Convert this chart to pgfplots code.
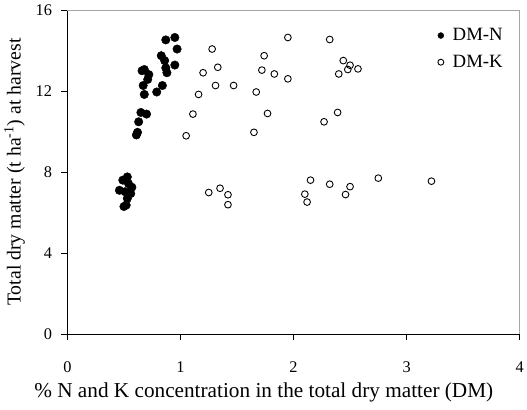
\documentclass[border=0pt]{standalone}
\usepackage{fontspec}
\setmainfont{Liberation Serif}
\usepackage{pgfplots}
\pgfplotsset{compat=1.18}

% DM-N: % N in dry matter vs total dry matter (t/ha)
\begin{document}
\begin{tikzpicture}[x=1bp,y=1bp]
\begin{axis}[
  scale only axis,
  width=456bp, height=327bp,
  xmin=0, xmax=4, ymin=0, ymax=16,
  xtick={0,1,2,3,4}, ytick={0,4,8,12,16},
  axis x line*=bottom, axis y line*=left,
  tick align=outside, tick style={black, thin},
  major tick length=6bp,
  axis line style={black, line width=0.8pt},
  ticklabel style={font=\fontsize{16.5}{19}\selectfont},
  xticklabel style={yshift=-18bp},
  yticklabel style={xshift=-6bp},
  /pgf/number format/assume math mode=true,
  xlabel={\% N and K concentration in the total dry matter (DM)},
  ylabel={Total dry matter (t ha\textsuperscript{-1}) at harvest},
  label style={font=\fontsize{20}{23}\selectfont},
  xlabel style={yshift=-4bp, xshift=-30bp, font=\fontsize{21.5}{24}\selectfont},
  ylabel style={yshift=4bp},
  legend style={draw=none, fill=none, at={(0.81,0.955)}, anchor=north west,
    font=\fontsize{19}{22}\selectfont, row sep=9bp,
    legend cell align=left},
  legend image code/.code={\path[draw=none, fill=none] (-4bp,0bp) -- (10bp,0bp);
    \draw[#1, mark size=3bp] plot coordinates {(0bp,0bp)};},
  clip=false,
]
\draw[gray!70, line width=0.8pt] (rel axis cs:0,1) -- (rel axis cs:1,1) -- (rel axis cs:1,0);

\addplot[only marks, mark=*, mark size=4.3bp, black] coordinates {
 (0.87,14.52) (0.95,14.64) (0.97,14.07) (0.83,13.74) (0.86,13.50)
 (0.95,13.28) (0.87,13.14) (0.88,12.90) (0.68,13.06) (0.66,13.00)
 (0.72,12.81) (0.71,12.57) (0.67,12.27) (0.84,12.27) (0.79,11.95)
 (0.68,11.83) (0.65,10.94) (0.70,10.86) (0.63,10.48) (0.62,9.96)
 (0.61,9.83)
 (0.49,7.60) (0.53,7.76) (0.54,7.43) (0.46,7.10) (0.51,7.03)
 (0.56,6.94) (0.53,6.70) (0.52,6.37) (0.50,6.30) (0.57,7.25)
};
\addlegendentry{DM-N}

\addplot[only marks, mark=o, mark size=3.4bp, black, mark options={line width=0.9pt}] coordinates {
 (1.28,14.07) (1.20,12.90) (1.33,13.17) (1.31,12.27) (1.16,11.83)
 (1.11,10.86) (1.05,9.79) (1.47,12.27)
 (1.95,14.64) (1.74,13.74) (1.72,13.03) (1.83,12.84) (1.95,12.60)
 (1.67,11.95) (1.77,10.89) (1.65,9.96)
 (2.32,14.54) (2.44,13.50) (2.50,13.27) (2.48,13.06) (2.57,13.09)
 (2.40,12.84) (2.39,10.94) (2.27,10.48)
 (1.25,6.99) (1.35,7.20) (1.42,6.88) (1.42,6.39)
 (2.10,6.91) (2.12,6.52) (2.15,7.60) (2.32,7.40) (2.46,6.89)
 (2.50,7.28) (2.75,7.70) (3.22,7.55)
};
\addlegendentry{DM-K}

\path (rel axis cs:0,0) ++(-68bp,-76bp) coordinate (bbA);
\path (rel axis cs:1,1) ++(3bp,10bp) coordinate (bbB);
\end{axis}
\path (bbA) rectangle (bbB);
\end{tikzpicture}
\end{document}
